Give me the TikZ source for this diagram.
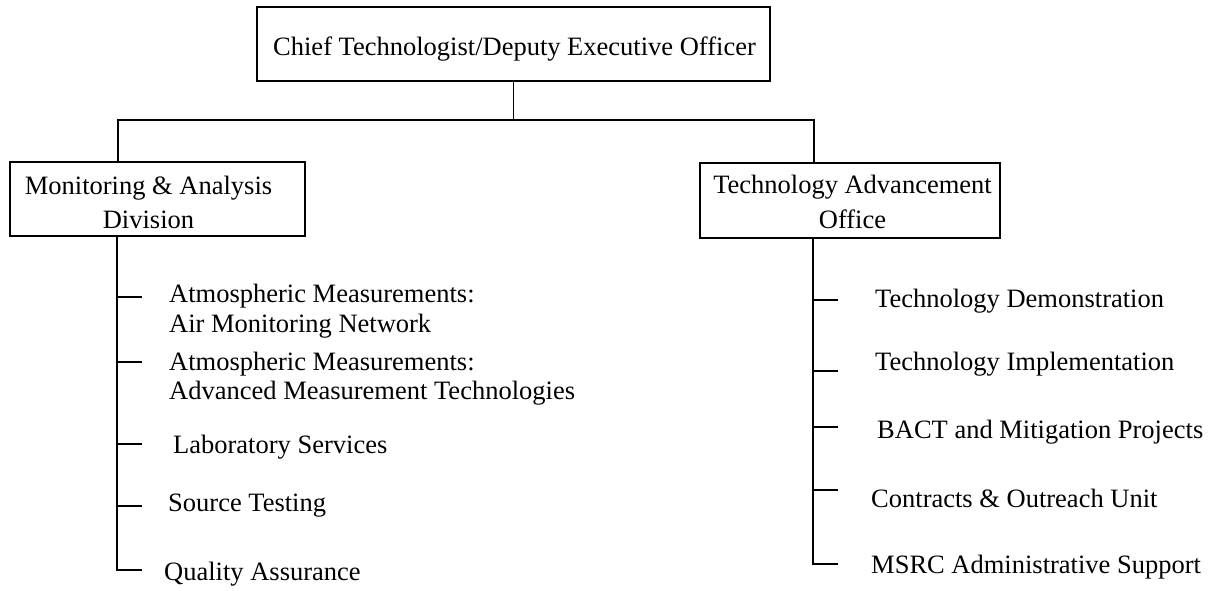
\documentclass[tikz,border=0pt]{standalone}
\usepackage{fontspec}
\setmainfont{Liberation Serif}
\newcommand\ctwo[3]{\vtop{\baselineskip=#1\halign{\hfil##\hfil\cr#2\cr#3\cr}}}
\newcommand\ltwo[3]{\vtop{\baselineskip=#1\hbox{#2}\hbox{#3}}}
\begin{document}
\begin{tikzpicture}[x=1pt,y=-1pt,
  box/.style={draw, line width=2pt, inner sep=0pt},
  topbox/.style={draw, line width=2.7pt, inner sep=0pt},
  txt/.style={inner sep=0pt, font=\fontsize{26.5}{30}\selectfont},
  conn/.style={line width=2pt},
  thinline/.style={line width=1.1pt},
  trunkR/.style={line width=1.8pt}]
\useasboundingbox[fill=white] (0,0) rectangle (1213,590);

% boxes
\node[topbox, minimum width=513pt, minimum height=74pt] (top) at (513.5,44) {};
\node[box, minimum width=295pt, minimum height=74pt] (lbox) at (157.5,199) {};
\node[box, minimum width=300pt, minimum height=75pt] (rbox) at (850,200.5) {};

% box texts
\node[txt, anchor=base west] (toptext) at (273,55) {Chief Technologist/Deputy Executive Officer};
\node[txt, anchor=base] (ltext) at (148.5,194) {\ctwo{34pt}{Monitoring \& Analysis}{Division}};
\node[txt, anchor=base] (rtext) at (852.5,193) {\ctwo{35pt}{Technology Advancement}{Office}};

% left items
\node[txt, anchor=base west] (l1) at (169,302) {\ltwo{30pt}{Atmospheric Measurements:}{Air Monitoring Network}};
\node[txt, anchor=base west] (l2) at (169,370) {\ltwo{29pt}{Atmospheric Measurements:}{Advanced Measurement Technologies}};
\node[txt, anchor=base west] (l3) at (173,453) {Laboratory Services};
\node[txt, anchor=base west] (l4) at (168,511) {Source Testing};
\node[txt, anchor=base west] (l5) at (164,580) {Quality Assurance};

% right items
\node[txt, anchor=base west] (r1) at (875,307) {Technology Demonstration};
\node[txt, anchor=base west] (r2) at (875,370) {Technology Implementation};
\node[txt, anchor=base west] (r3) at (877,438) {BACT and Mitigation Projects};
\node[txt, anchor=base west] (r4) at (871,507) {Contracts \& Outreach Unit};
\node[txt, anchor=base west] (r5) at (871,573) {MSRC Administrative Support};

% junction coordinates
\coordinate (j) at (513.5,120);
\coordinate (lj) at (118,120);
\coordinate (rj) at (814,120);
\coordinate (lt) at (117,570);
\coordinate (rt) at (813,564);
\coordinate (lb1) at (142,297);
\coordinate (lb2) at (142,362);
\coordinate (lb3) at (142,444);
\coordinate (lb4) at (142,506);
\coordinate (lb5) at (142,570);
\coordinate (rb1) at (838,300);
\coordinate (rb2) at (838,371);
\coordinate (rb3) at (838,427);
\coordinate (rb4) at (838,490);
\coordinate (rb5) at (838,564);

% top connectors
\draw[thinline] (top.south) -- (j);
\draw[conn] (lbox.north -| lj) -- (lj) -- (rj) -- (rbox.north -| rj);

% left tree
\draw[thinline] (lbox.south -| lt) -- (lt) -- (lb5);
\foreach \b in {lb1,lb2,lb3,lb4} \draw[thinline] (\b -| lt) -- (\b);

% right tree
\draw[trunkR] (rbox.south -| rt) -- (rb4 -| rt);
\draw[thinline] (rb4 -| rt) -- (rt) -- (rb5);
\foreach \b in {rb1,rb2,rb3,rb4} \draw[thinline] (\b -| rt) -- (\b);
\end{tikzpicture}
\end{document}
